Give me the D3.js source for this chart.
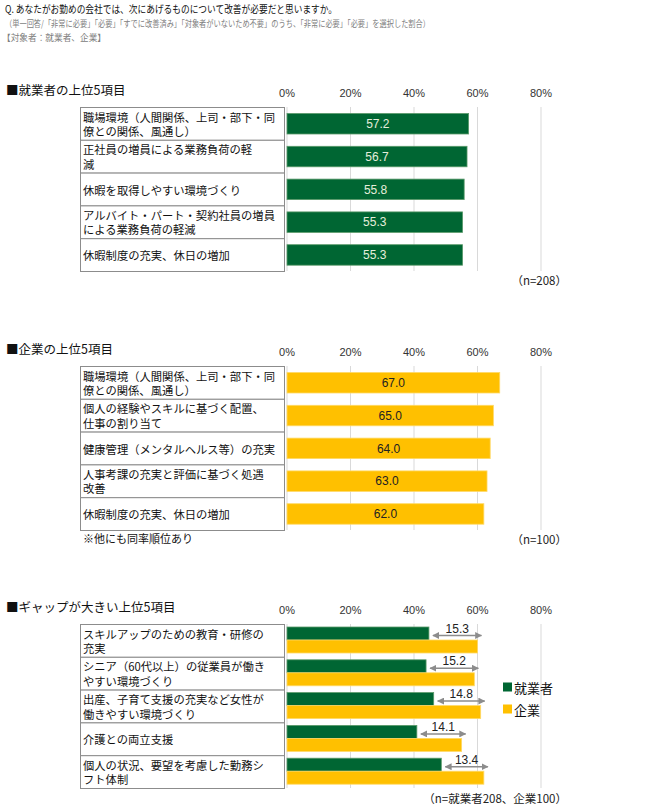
<!DOCTYPE html>
<html>
<head>
<meta charset="utf-8">
<script src="https://cdn.jsdelivr.net/npm/d3@7"></script>
<style>
	body { margin: 0; background: #fff; }
	text { font-family: "Noto Sans CJK JP", sans-serif; }
	.num { font-family: "Liberation Sans", Arial, sans-serif; }
</style>
</head>
<body>
<svg id="chart" width="651" height="810"></svg>
<script>
// data
var ticks = [0, 20, 40, 60, 80];

var empCats = [
	"職場環境（人間関係、上司・部下・同\n僚との関係、風通し）",
	"正社員の増員による業務負荷の軽\n減",
	"休暇を取得しやすい環境づくり",
	"アルバイト・パート・契約社員の増員\nによる業務負荷の軽減",
	"休暇制度の充実、休日の増加"
];
var empVals = [57.2, 56.7, 55.8, 55.3, 55.3];

var compCats = [
	"職場環境（人間関係、上司・部下・同\n僚との関係、風通し）",
	"個人の経験やスキルに基づく配置、\n仕事の割り当て",
	"健康管理（メンタルヘルス等）の充実",
	"人事考課の充実と評価に基づく処遇\n改善",
	"休暇制度の充実、休日の増加"
];
var compVals = [67.0, 65.0, 64.0, 63.0, 62.0];

var gapCats = [
	"スキルアップのための教育・研修の\n充実",
	"シニア（60代以上）の従業員が働き\nやすい環境づくり",
	"出産、子育て支援の充実など女性が\n働きやすい環境づくり",
	"介護との両立支援",
	"個人の状況、要望を考慮した勤務シ\nフト体制"
];
var gapEmp = [44.7, 43.8, 46.2, 40.9, 48.6];
var gapComp = [60.0, 59.0, 61.0, 55.0, 62.0];
var gapDiff = [15.3, 15.2, 14.8, 14.1, 13.4];

var GREEN = "#006633", YELLOW = "#ffc000";

var svg = d3.select("#chart");
var x = d3.scaleLinear().domain([0, 80]).range([287, 541]);

/*
header
*/
svg.append("text").attr("x", 5).attr("y", 13)
	.attr("font-size", 10.5).attr("fill", "#111")
	.attr("textLength", 332).attr("lengthAdjust", "spacingAndGlyphs")
	.text("Q. あなたがお勤めの会社では、次にあげるものについて改善が必要だと思いますか。");
svg.append("text").attr("x", 5).attr("y", 27)
	.attr("font-size", 9).attr("fill", "#808080")
	.attr("textLength", 425).attr("lengthAdjust", "spacingAndGlyphs")
	.text("（単一回答/「非常に必要」「必要」「すでに改善済み」「対象者がいないため不要」のうち、「非常に必要」「必要」を選択した割合）");
svg.append("text").attr("x", 2).attr("y", 40.5)
	.attr("font-size", 9).attr("fill", "#808080")
	.attr("textLength", 104).attr("lengthAdjust", "spacingAndGlyphs")
	.text("【対象者：就業者、企業】");

/*
one panel: title, ticks, label boxes, gridlines
*/
function panel(top, title, cats, note) {
	var g = svg.append("g");
	var y = d3.scaleBand().domain(d3.range(cats.length))
		.range([top + 14, top + 14 + 32.8 * cats.length]);

	g.append("text").attr("x", 6).attr("y", top - 4)
		.attr("dominant-baseline", "central")
		.attr("font-size", 12.5).attr("fill", "#111")
		.text(title);

	g.selectAll(".tick").data(ticks).enter().append("text")
		.attr("class", "num")
		.attr("x", function(d) { return x(d); })
		.attr("y", top)
		.attr("text-anchor", "middle")
		.attr("dominant-baseline", "central")
		.attr("font-size", 11).attr("fill", "#333")
		.text(function(d) { return d + "%"; });

	g.selectAll(".grid").data(ticks).enter().append("line")
		.attr("x1", function(d) { return x(d); })
		.attr("x2", function(d) { return x(d); })
		.attr("y1", y.range()[0]).attr("y2", y.range()[1])
		.attr("stroke", "#d9d9d9").attr("stroke-width", 1);

	g.selectAll(".box").data(cats).enter().append("rect")
		.attr("x", 80.5).attr("width", 204)
		.attr("y", function(d, i) { return y(i) + 0.5; })
		.attr("height", y.bandwidth())
		.attr("fill", "#fff").attr("stroke", "#8c8c8c").attr("stroke-width", 1);

	var lab = g.selectAll(".lab").data(cats).enter().append("text")
		.attr("font-size", 11.3).attr("fill", "#111")
		.attr("dominant-baseline", "central");
	lab.each(function(d, i) {
		var lines = d.split("\n");
		var t = d3.select(this);
		lines.forEach(function(l, j) {
			var cy = lines.length == 1 ? y(i) + y.bandwidth() / 2 + 0.5 : y(i) + 9.5 + j * 14.5;
			t.append("tspan").attr("x", 83).attr("y", cy).text(l);
		});
	});

	if (note) {
		g.append("text").attr("x", 83).attr("y", y.range()[1] + 8)
			.attr("dominant-baseline", "central")
			.attr("font-size", 11).attr("fill", "#111")
			.text(note);
	}
	return {g: g, y: y};
}

function nLabel(yy, txt) {
	svg.append("text").attr("x", 567).attr("y", yy)
		.attr("text-anchor", "end").attr("dominant-baseline", "central")
		.attr("font-size", 11.5).attr("fill", "#222")
		.text(txt);
}

function singleBars(p, vals, fill, stroke, txtFill) {
	p.g.selectAll(".bar").data(vals).enter().append("rect")
		.attr("x", x(0))
		.attr("y", function(d, i) { return p.y(i) + 6.5; })
		.attr("width", function(d) { return x(d) - x(0); })
		.attr("height", 20.5)
		.attr("fill", fill).attr("stroke", stroke).attr("stroke-width", 0.8);
	p.g.selectAll(".val").data(vals).enter().append("text")
		.attr("class", "num")
		.attr("x", function(d) { return (x(0) + x(d)) / 2; })
		.attr("y", function(d, i) { return p.y(i) + 17; })
		.attr("text-anchor", "middle").attr("dominant-baseline", "central")
		.attr("font-size", 12).attr("fill", txtFill)
		.text(function(d) { return d.toFixed(1); });
}

// panel 1
var p1 = panel(93, "■就業者の上位5項目", empCats);
singleBars(p1, empVals, GREEN, "#5a9a6a", "#e6eedc");
nLabel(280, "（n=208）");

// panel 2
var p2 = panel(352, "■企業の上位5項目", compCats, "※他にも同率順位あり");
singleBars(p2, compVals, YELLOW, "#ffd966", "#222");
nLabel(539, "（n=100）");

// panel 3
var p3 = panel(610, "■ギャップが大きい上位5項目", gapCats);

svg.append("defs").append("marker")
	.attr("id", "ah").attr("viewBox", "0 0 10 10")
	.attr("refX", 9).attr("refY", 5)
	.attr("markerWidth", 7).attr("markerHeight", 7)
	.attr("markerUnits", "userSpaceOnUse")
	.attr("orient", "auto-start-reverse")
	.append("path").attr("d", "M0,0L10,5L0,10Z").attr("fill", "#8c8c8c");

p3.g.selectAll(".ge").data(gapEmp).enter().append("rect")
	.attr("x", x(0))
	.attr("y", function(d, i) { return p3.y(i) + 3; })
	.attr("width", function(d) { return x(d) - x(0); })
	.attr("height", 13)
	.attr("fill", GREEN).attr("stroke", "#5a9a6a").attr("stroke-width", 0.8);
p3.g.selectAll(".gc").data(gapComp).enter().append("rect")
	.attr("x", x(0))
	.attr("y", function(d, i) { return p3.y(i) + 16; })
	.attr("width", function(d) { return x(d) - x(0); })
	.attr("height", 13)
	.attr("fill", YELLOW).attr("stroke", "#ffd966").attr("stroke-width", 0.8);

p3.g.selectAll(".arr").data(gapDiff).enter().append("line")
	.attr("x1", function(d, i) { return x(gapEmp[i]) + 4; })
	.attr("x2", function(d, i) { return x(gapComp[i]) + 4; })
	.attr("y1", function(d, i) { return p3.y(i) + 11.5; })
	.attr("y2", function(d, i) { return p3.y(i) + 11.5; })
	.attr("stroke", "#8c8c8c").attr("stroke-width", 1.5)
	.attr("marker-start", "url(#ah)").attr("marker-end", "url(#ah)");
p3.g.selectAll(".gd").data(gapDiff).enter().append("text")
	.attr("class", "num")
	.attr("x", function(d, i) { return (x(gapEmp[i]) + x(gapComp[i])) / 2 + 4; })
	.attr("y", function(d, i) { return p3.y(i) + 4.5; })
	.attr("text-anchor", "middle").attr("dominant-baseline", "central")
	.attr("font-size", 12).attr("fill", "#222")
	.text(function(d) { return d.toFixed(1); });

// legend
var legend = svg.append("g").selectAll("g")
	.data([{name: "就業者", fill: GREEN}, {name: "企業", fill: YELLOW}])
	.enter().append("g")
	.attr("transform", function(d, i) { return "translate(503," + (687 + i * 22) + ")"; });
legend.append("rect").attr("x", 0).attr("y", -4.5).attr("width", 9).attr("height", 9)
	.attr("fill", function(d) { return d.fill; });
legend.append("text").attr("x", 11).attr("y", 0)
	.attr("dominant-baseline", "central")
	.attr("font-size", 13).attr("fill", "#111")
	.text(function(d) { return d.name; });

nLabel(798, "（n=就業者208、企業100）");
</script>
</body>
</html>
